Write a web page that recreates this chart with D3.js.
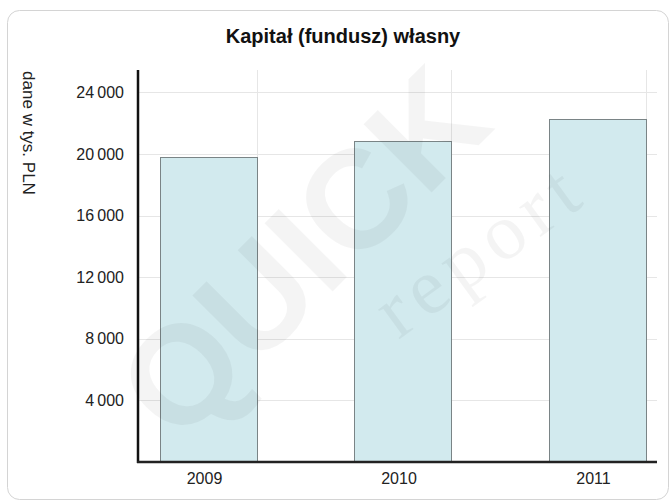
<!DOCTYPE html>
<html><head><meta charset="utf-8">
<script src="https://cdn.jsdelivr.net/npm/d3@7"></script>
<style>html,body{margin:0;padding:0;background:#fff;}svg{display:block;}</style>
</head><body>
<script>
const years = ["2009", "2010", "2011"];
const values = [19800, 20850, 22250];
const yTicks = [4000, 8000, 12000, 16000, 20000, 24000];
const title = "Kapitał (fundusz) własny";
const yLabel = "dane w tys. PLN";

(function () {
const W = 672, H = 504;
const svg = d3.select("body").append("svg").attr("width", W).attr("height", H);

// card
svg.append("rect").attr("x", 7.5).attr("y", 10.5).attr("width", 661).attr("height", 489)
  .attr("rx", 12).attr("fill", "#fff").attr("stroke", "#d4d4d4").attr("stroke-width", 1);

const pLeft = 138, pRight = 657, pTop = 70, pBottom = 462;
const y = d3.scaleLinear().domain([0, 25450]).range([pBottom, pTop]);
const x = d3.scalePoint().domain(years).range([208, 597]);
const barW = 97;

// gridlines
svg.append("g").selectAll("line").data(yTicks).join("line")
  .attr("x1", pLeft).attr("x2", pRight).attr("y1", d => Math.round(y(d)) + 0.5).attr("y2", d => Math.round(y(d)) + 0.5)
  .attr("stroke", "#e6e6e6").attr("stroke-width", 1);
svg.append("g").selectAll("line").data(years).join("line")
  .attr("x1", d => Math.round(x(d) + barW / 2) + 0.5).attr("x2", d => Math.round(x(d) + barW / 2) + 0.5)
  .attr("y1", pTop).attr("y2", pBottom).attr("stroke", "#e6e6e6").attr("stroke-width", 1);

// bars
svg.append("g").selectAll("rect").data(values).join("rect")
  .attr("x", (d, i) => Math.round(x(years[i]) - barW / 2) + 0.5)
  .attr("y", d => Math.round(y(d)) + 0.5)
  .attr("width", barW)
  .attr("height", d => pBottom - Math.round(y(d)))
  .attr("fill", "#d2eaee").attr("stroke", "#7a8486").attr("stroke-width", 1);

// y tick labels
const yAxis = d3.axisLeft(y).tickValues(yTicks).tickSize(0).tickPadding(14)
  .tickFormat(d => d3.format(",")(d).replace(/,/g, "\u2009"));
const gy = svg.append("g").attr("transform", `translate(${pLeft},0)`).call(yAxis);
gy.select(".domain").remove();
gy.selectAll("text").attr("font-family", "Liberation Sans, Arial, sans-serif").attr("font-size", 16).attr("fill", "#222");

// x tick labels
const xAxis = d3.axisBottom(x).tickSize(0).tickPadding(11);
const gx = svg.append("g").attr("transform", `translate(-4,${pBottom})`).call(xAxis);
gx.select(".domain").remove();
gx.selectAll("text").attr("font-family", "Liberation Sans, Arial, sans-serif").attr("font-size", 16).attr("fill", "#222");

// axis lines
svg.append("line").attr("x1", pLeft).attr("x2", pLeft).attr("y1", pTop).attr("y2", pBottom + 1)
  .attr("stroke", "#111").attr("stroke-width", 2.5);
svg.append("line").attr("x1", pLeft - 1).attr("x2", pRight).attr("y1", pBottom).attr("y2", pBottom)
  .attr("stroke", "#222").attr("stroke-width", 2.5);

// title
svg.append("text").attr("x", 343).attr("y", 43).attr("text-anchor", "middle")
  .attr("font-family", "Liberation Sans, Arial, sans-serif").attr("font-weight", "bold").attr("font-size", 20)
  .attr("fill", "#111").text(title);

// y label
svg.append("text").attr("transform", "translate(23,133) rotate(90)").attr("text-anchor", "middle")
  .attr("font-family", "Liberation Sans, Arial, sans-serif").attr("font-size", 17).attr("fill", "#222")
  .text(yLabel);

// watermark
svg.append("text").attr("transform", "translate(337,287) rotate(-45)").attr("text-anchor", "middle")
  .attr("font-family", "Liberation Sans, Arial, sans-serif").attr("font-weight", "bold").attr("font-size", 140)
  .attr("fill", "#000").attr("fill-opacity", 0.045).text("QUICK");
svg.append("text").attr("transform", "translate(495,270) rotate(-36)").attr("text-anchor", "middle")
  .attr("font-family", "Liberation Serif, serif").attr("font-size", 80).attr("letter-spacing", 8)
  .attr("fill", "#000").attr("fill-opacity", 0.045).text("report");
})();
</script>
</body></html>
